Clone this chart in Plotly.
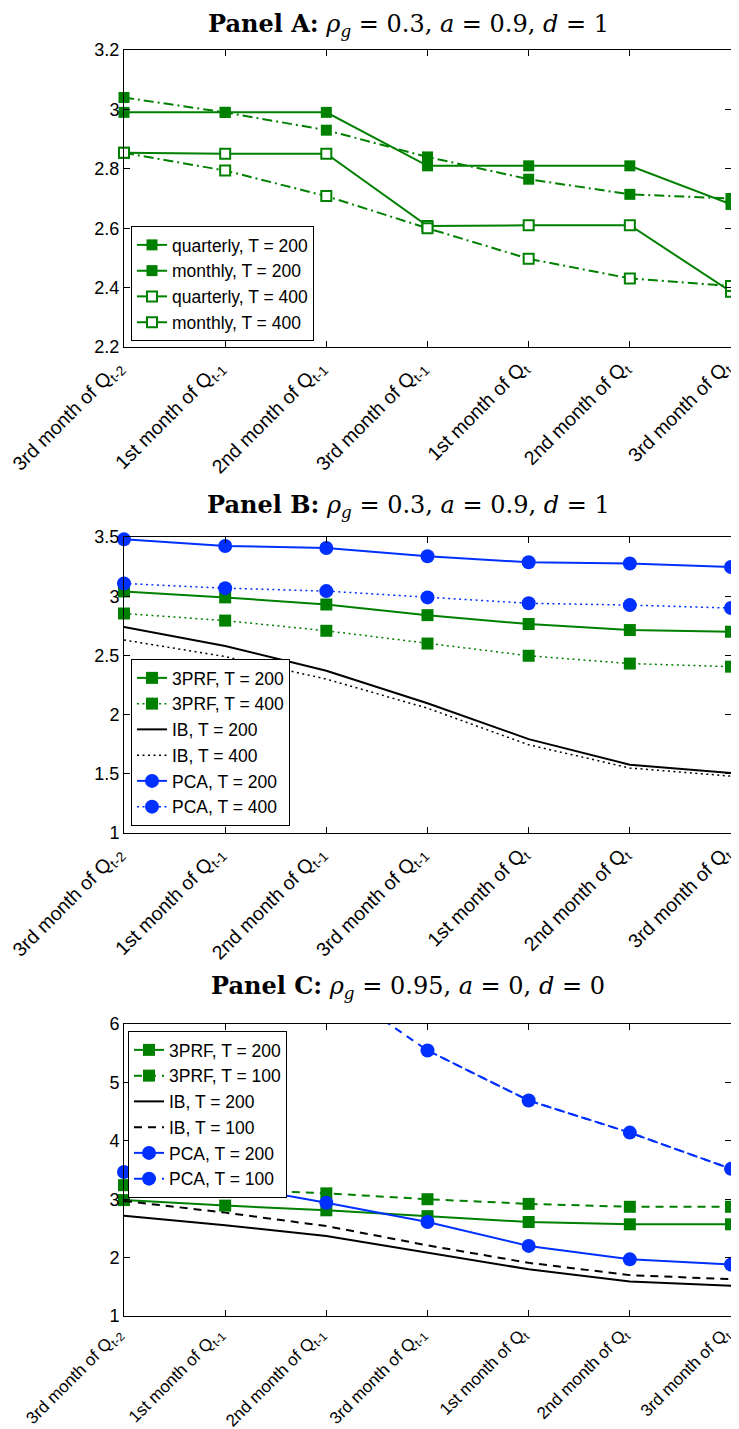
import plotly.graph_objects as go

# ---------------- data ----------------
categories = [
    "3rd month of Q<sub>t-2</sub>",
    "1st month of Q<sub>t-1</sub>",
    "2nd month of Q<sub>t-1</sub>",
    "3rd month of Q<sub>t-1</sub>",
    "1st month of Q<sub>t</sub>",
    "2nd month of Q<sub>t</sub>",
    "3rd month of Q<sub>t</sub>",
]

# Panel A
a_quarterly_200 = [2.99, 2.99, 2.99, 2.81, 2.81, 2.81, 2.68]
a_monthly_200 = [3.04, 2.99, 2.93, 2.84, 2.765, 2.714, 2.70]
a_quarterly_400 = [2.854, 2.851, 2.851, 2.607, 2.61, 2.61, 2.386]
a_monthly_400 = [2.854, 2.794, 2.708, 2.60, 2.497, 2.431, 2.405]

# Panel B
b_3prf_200 = [3.04, 2.99, 2.93, 2.84, 2.765, 2.714, 2.70]
b_3prf_400 = [2.854, 2.794, 2.708, 2.60, 2.497, 2.431, 2.405]
b_ib_200 = [2.74, 2.58, 2.37, 2.096, 1.793, 1.577, 1.507]
b_ib_400 = [2.63, 2.49, 2.30, 2.054, 1.745, 1.549, 1.48]
b_pca_200 = [3.48, 3.424, 3.407, 3.337, 3.287, 3.276, 3.247]
b_pca_400 = [3.107, 3.068, 3.043, 2.99, 2.94, 2.925, 2.90]

# Panel C
c_3prf_200 = [2.985, 2.89, 2.81, 2.71, 2.61, 2.57, 2.57]
c_3prf_100 = [3.24, 3.17, 3.10, 3.00, 2.92, 2.87, 2.87]
c_ib_200 = [2.715, 2.555, 2.37, 2.08, 1.80, 1.59, 1.52]
c_ib_100 = [2.97, 2.77, 2.54, 2.21, 1.91, 1.70, 1.63]
c_pca_200 = [3.466, 3.25, 2.94, 2.61, 2.20, 1.97, 1.88]
c_pca_100 = [8.4, 7.5, 6.74, 5.547, 4.69, 4.14, 3.52]

y_ranges = {"A": [2.2, 3.2], "B": [1, 3.5], "C": [1, 6]}
y_dticks = {"A": 0.2, "B": 0.5, "C": 1}

# ---------------- style ----------------
OFF = 8                      # page body margin of the browser
W, H = 739 - OFF, 1429 - OFF
GREEN = "rgb(0,128,0)"
BLUE = "rgb(0,48,255)"
BLACK = "black"
DASHDOT = "10px,4px,2px,4px"
DOTTED = "2px,3.5px"
DASHED = "8px,6px"
FONT = "Liberation Sans"

x_idx = list(range(len(categories)))

fig = go.Figure()


def add(name, y, axis_n, legend, color, dash, width, symbol=None, size=0,
        fill=None, lw=0, yr=None):
    xa = "x" if axis_n == 1 else f"x{axis_n}"
    ya = "y" if axis_n == 1 else f"y{axis_n}"
    mode = "lines+markers" if symbol else "lines"
    marker = dict(symbol=symbol or "circle", size=size,
                  color=fill if fill else color,
                  line=dict(color=color, width=lw))
    out = yr is not None and any(v > yr[1] or v < yr[0] for v in y)
    if out:
        # full line (clipped by axes), markers only for in-range points
        fig.add_trace(go.Scatter(x=x_idx, y=y, xaxis=xa, yaxis=ya, mode="lines",
                                 line=dict(color=color, dash=dash, width=width),
                                 showlegend=False, hoverinfo="skip",
                                 cliponaxis=False))
        ym = [v if yr[0] <= v <= yr[1] else None for v in y]
        fig.add_trace(go.Scatter(x=x_idx, y=ym, xaxis=xa, yaxis=ya, mode=mode,
                                 name=name, legend=legend,
                                 line=dict(color=color, dash=dash, width=width),
                                 marker=marker, cliponaxis=False))
    else:
        fig.add_trace(go.Scatter(x=x_idx, y=y, xaxis=xa, yaxis=ya, mode=mode,
                                 name=name, legend=legend,
                                 line=dict(color=color, dash=dash, width=width),
                                 marker=marker, cliponaxis=False))


# Panel A
add("quarterly, T = 200", a_quarterly_200, 1, "legend", GREEN, "solid", 2,
    "square", 11)
add("monthly, T = 200", a_monthly_200, 1, "legend", GREEN, DASHDOT, 2,
    "square", 11)
add("quarterly, T = 400", a_quarterly_400, 1, "legend", GREEN, "solid", 2,
    "square", 10, fill="white", lw=2)
add("monthly, T = 400", a_monthly_400, 1, "legend", GREEN, DASHDOT, 2,
    "square", 10, fill="white", lw=2)

# Panel B
add("3PRF, T = 200", b_3prf_200, 2, "legend2", GREEN, "solid", 2, "square", 12)
add("3PRF, T = 400", b_3prf_400, 2, "legend2", GREEN, DOTTED, 1.5, "square", 12)
add("IB, T = 200", b_ib_200, 2, "legend2", BLACK, "solid", 2)
add("IB, T = 400", b_ib_400, 2, "legend2", BLACK, DOTTED, 1.5)
add("PCA, T = 200", b_pca_200, 2, "legend2", BLUE, "solid", 2, "circle", 14)
add("PCA, T = 400", b_pca_400, 2, "legend2", BLUE, DOTTED, 1.5, "circle", 14)

# Panel C
add("3PRF, T = 200", c_3prf_200, 3, "legend3", GREEN, "solid", 2, "square", 12,
    yr=y_ranges["C"])
add("3PRF, T = 100", c_3prf_100, 3, "legend3", GREEN, DASHED, 2, "square", 12,
    yr=y_ranges["C"])
add("IB, T = 200", c_ib_200, 3, "legend3", BLACK, "solid", 2, yr=y_ranges["C"])
add("IB, T = 100", c_ib_100, 3, "legend3", BLACK, DASHED, 2, yr=y_ranges["C"])
add("PCA, T = 200", c_pca_200, 3, "legend3", BLUE, "solid", 2, "circle", 14,
    yr=y_ranges["C"])
add("PCA, T = 100", c_pca_100, 3, "legend3", BLUE, DASHED, 2, "circle", 14,
    yr=y_ranges["C"])

# ---------------- layout ----------------
def px_x(px):
    return (px - OFF) / W


def px_y(px):
    return 1 - (px - OFF) / H


x_dom = [px_x(124), px_x(731)]
y_doms = {"A": [px_y(347), px_y(50)], "B": [px_y(833), px_y(537)],
          "C": [px_y(1316), px_y(1024)]}
x_font = {"A": 19.5, "B": 19.5, "C": 17}

axis_common = dict(showline=True, linecolor="black", linewidth=1, mirror="ticks",
                   ticks="inside", ticklen=6, tickcolor="black", tickwidth=1,
                   showgrid=False, zeroline=False, automargin=False,
                   ticklabeloverflow="allow",
                   tickfont=dict(family=FONT, size=18, color="black"))

layout = dict(width=W, height=H, margin=dict(l=0, r=0, t=0, b=0, autoexpand=False),
              paper_bgcolor="white", plot_bgcolor="white",
              font=dict(family=FONT, color="black"))

for i, key in enumerate(["A", "B", "C"], start=1):
    xn = "xaxis" if i == 1 else f"xaxis{i}"
    yn = "yaxis" if i == 1 else f"yaxis{i}"
    yanc = "y" if i == 1 else f"y{i}"
    xanc = "x" if i == 1 else f"x{i}"
    layout[xn] = dict(axis_common, domain=x_dom, anchor=yanc, range=[0, 6],
                      tickmode="array", tickvals=x_idx, ticktext=categories,
                      tickangle=-45, ticklabelshift=-7,
                      tickfont=dict(family=FONT, size=x_font[key], color="black"))
    layout[yn] = dict(axis_common, domain=y_doms[key], anchor=xanc,
                      range=y_ranges[key], tickmode="linear",
                      tick0=y_ranges[key][0], dtick=y_dticks[key])

leg_common = dict(bgcolor="white", bordercolor="black", borderwidth=1,
                  font=dict(family=FONT, size=17.5, color="black"),
                  xanchor="left", tracegroupgap=0)
layout["legend"] = dict(leg_common, x=px_x(131), y=px_y(341), yanchor="bottom")
layout["legend2"] = dict(leg_common, x=px_x(131), y=px_y(826), yanchor="bottom")
layout["legend3"] = dict(leg_common, x=px_x(128), y=px_y(1031), yanchor="top")

titles = [
    ("<b>Panel A:</b> <i>ρ<sub>g</sub></i> = 0.3, <i>a</i> = 0.9, <i>d</i> = 1", 25),
    ("<b>Panel B:</b> <i>ρ<sub>g</sub></i> = 0.3, <i>a</i> = 0.9, <i>d</i> = 1", 506),
    ("<b>Panel C:</b> <i>ρ<sub>g</sub></i> = 0.95, <i>a</i> = 0, <i>d</i> = 0", 987),
]
layout["annotations"] = [
    dict(text=t, xref="paper", yref="paper", x=px_x(408), y=px_y(yp),
         xanchor="center", yanchor="middle", showarrow=False,
         font=dict(family="DejaVu Serif", size=24, color="black"))
    for t, yp in titles
]

fig.update_layout(layout)
fig.write_html("out.html")
